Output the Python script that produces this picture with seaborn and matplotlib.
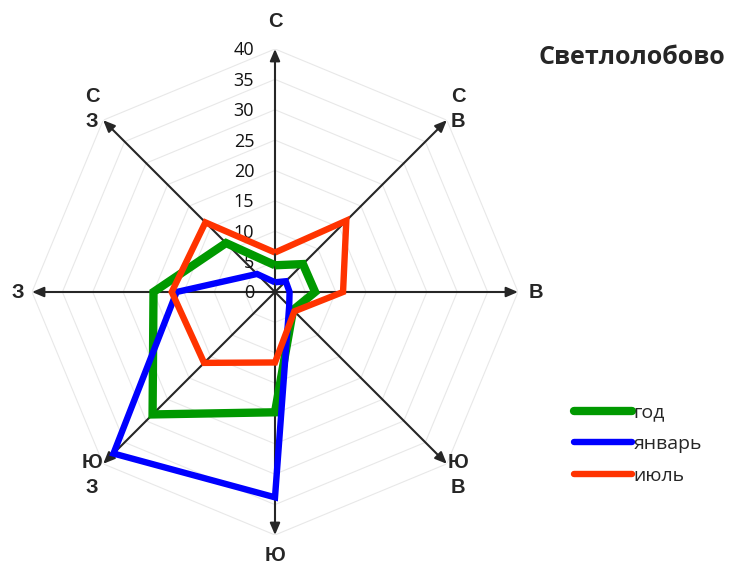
import numpy as np
import pandas as pd
import seaborn as sns
import matplotlib.pyplot as plt

# wind directions, clockwise from north
directions = ["С", "С\nВ", "В", "Ю\nВ", "Ю", "Ю\nЗ", "З", "С\nЗ"]
year_vals = [4.4, 6.5, 6.6, 4.2, 19.8, 28.5, 20.0, 11.4]
jan_vals = [1.6, 2.5, 2.4, 3.3, 33.8, 37.6, 16.2, 4.2]
jul_vals = [6.5, 16.6, 11.2, 4.5, 11.6, 16.5, 17.0, 16.2]
series_names = ["год", "январь", "июль"]
r_ticks = [0, 5, 10, 15, 20, 25, 30, 35, 40]

colors = ["#009900", "#0000ff", "#ff3300"]
widths = [6.0, 4.6, 4.6]
label_r = [44.6, 42.6, 43.0, 42.6, 43.4, 42.6, 42.4, 42.6]

sns.set_style("white")
plt.rcParams["font.family"] = ["Open Sans", "DejaVu Sans"]

fig = plt.figure(figsize=(7.3, 5.67), dpi=100)
ax = fig.add_axes([(275 - 243) / 730, (275 - 243) / 567, 486 / 730, 486 / 567],
                  projection="polar")
ax.set_theta_zero_location("N")
ax.set_theta_direction(-1)
ax.set_ylim(0, 40)
ax.set_xticks([])
ax.set_yticks([])
ax.grid(False)
ax.spines["polar"].set_visible(False)

angles = np.deg2rad(np.arange(8) * 45.0)
closed = np.append(angles, angles[0])

# octagon grid
for r in r_ticks[1:]:
    ax.plot(closed, [r] * 9, color="#e8e8e8", lw=0.8, zorder=1)

# axis arrows
for a in angles:
    ax.annotate("", xy=(a, 40), xytext=(a, 0),
                arrowprops=dict(arrowstyle="-|>,head_length=0.7,head_width=0.3",
                                color="#262626", lw=1.5, shrinkA=0, shrinkB=0),
                zorder=2, annotation_clip=False)

# radial tick labels
for r in r_ticks:
    ax.annotate(str(r), xy=(0, r), xytext=(-15, -1), textcoords="offset points",
                ha="right", va="center", fontsize=13, color="#111111",
                annotation_clip=False)

# direction labels
for a, lab, lr in zip(angles, directions, label_r):
    ax.text(a, lr, lab, ha="center", va="center", fontsize=14.5,
            fontweight="bold", family="Liberation Sans", linespacing=1.35,
            clip_on=False)

# data series
for name, vals, c, w in zip(series_names, [year_vals, jan_vals, jul_vals], colors, widths):
    df = pd.DataFrame({"theta": closed, "r": np.append(vals, vals[0])})
    sns.lineplot(data=df, x="theta", y="r", ax=ax, sort=False, estimator=None,
                 color=c, lw=w, label=name, zorder=3,
                 solid_joinstyle="miter", solid_capstyle="butt")
ax.set_xlabel("")
ax.set_ylabel("")

handles, labels = ax.get_legend_handles_labels()
if ax.get_legend():
    ax.get_legend().remove()
leg = fig.legend(handles, labels, loc="center left",
                 bbox_to_anchor=(556 / 730, 1 - 444 / 567), frameon=False,
                 fontsize=14, handlelength=3.0, handletextpad=0.1,
                 labelspacing=0.7)
for line in leg.get_lines():
    line.set_solid_capstyle("round")

fig.text(632 / 730, 1 - 58 / 567, "Светлолобово", ha="center", va="center",
         fontsize=18, fontweight="bold")

fig.savefig("out.png", dpi=100)
